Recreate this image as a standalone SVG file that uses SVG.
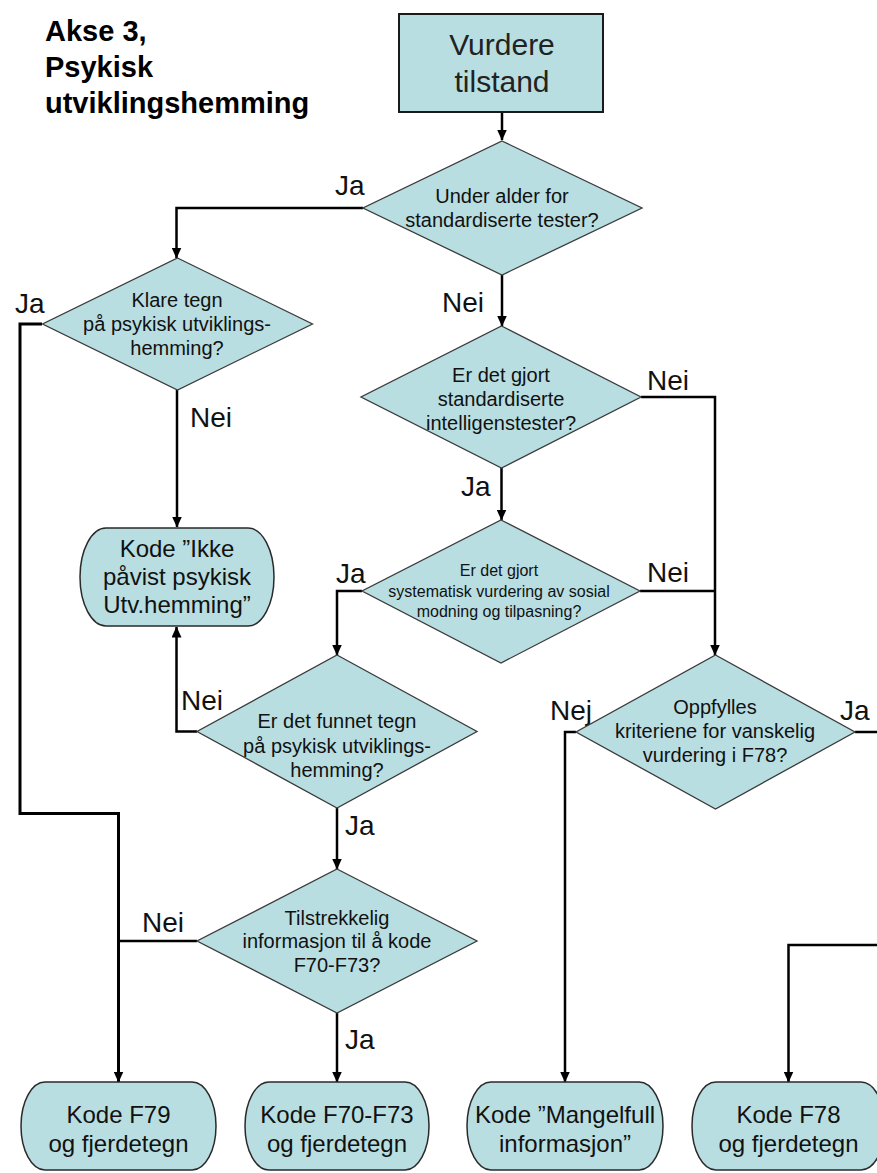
<svg xmlns="http://www.w3.org/2000/svg" width="877" height="1173" viewBox="0 0 877 1173">
<defs>
<marker id="arr" markerUnits="userSpaceOnUse" markerWidth="11" markerHeight="10" refX="10.5" refY="5" orient="auto">
<path d="M0,0 L11,5 L0,10 z" fill="#000"/>
</marker>
<style>
text{font-family:"Liberation Sans",Arial,sans-serif;fill:#111;}
.title{font-size:29px;font-weight:bold;fill:#000;}
.dia{fill:#B8DEE1;stroke:#3a3a3a;stroke-width:1.3;}
.term{fill:#B8DEE1;stroke:#2a2a2a;stroke-width:1.5;}
.box{fill:#B8DEE1;stroke:#1a1a1a;stroke-width:2;}
.t20{font-size:20px;text-anchor:middle;}
.t16{font-size:16px;text-anchor:middle;}
.t24{font-size:24px;text-anchor:middle;}
.t30{font-size:30px;text-anchor:middle;fill:#222;}
.lbl{font-size:28px;fill:#111;}
.con{fill:none;stroke:#000;stroke-width:2.5;}
.thick{stroke-width:3;}
</style>
</defs>
<rect width="877" height="1173" fill="#fff"/>

<g id="title">
<text class="title" x="45" y="41">Akse 3,</text>
<text class="title" x="45" y="77">Psykisk</text>
<text class="title" x="45" y="113">utviklingshemming</text>
</g>

<g id="connectors">
<path class="con" d="M502,112 L502,140" marker-end="url(#arr)"/>
<path class="con" d="M363,208 L176.5,208 L176.5,258" marker-end="url(#arr)"/>
<path class="con" d="M502,275 L502,326" marker-end="url(#arr)"/>
<path class="con thick" d="M42,324 L20,324 L20,813.5 L118.5,813.5 L118.5,1082" marker-end="url(#arr)"/>
<path class="con" d="M197,941 L118.5,941"/>
<path class="con" d="M177,390 L177,527" marker-end="url(#arr)"/>
<path class="con" d="M641,397 L715,397 L715,655" marker-end="url(#arr)"/>
<path class="con" d="M501.5,468 L501.5,520" marker-end="url(#arr)"/>
<path class="con" d="M640,591 L715,591"/>
<path class="con" d="M362,591 L337,591 L337,655" marker-end="url(#arr)"/>
<path class="con" d="M197,731.5 L176.5,731.5 L176.5,627" marker-end="url(#arr)"/>
<path class="con" d="M337,808 L337,869" marker-end="url(#arr)"/>
<path class="con" d="M337,1013 L337,1082" marker-end="url(#arr)"/>
<path class="con" d="M576,732 L565,732 L565,1082" marker-end="url(#arr)"/>
<path class="con" d="M855,732 L877,732"/>
<path class="con" d="M877,945 L788.5,945 L788.5,1082" marker-end="url(#arr)"/>
<text class="lbl" x="335" y="195">Ja</text>
<text class="lbl" x="442" y="312">Nei</text>
<text class="lbl" x="15" y="313">Ja</text>
<text class="lbl" x="190" y="427">Nei</text>
<text class="lbl" x="647" y="390">Nei</text>
<text class="lbl" x="461" y="496">Ja</text>
<text class="lbl" x="647" y="582">Nei</text>
<text class="lbl" x="336" y="583">Ja</text>
<text class="lbl" x="181" y="710">Nei</text>
<text class="lbl" x="345" y="835">Ja</text>
<text class="lbl" x="142" y="932">Nei</text>
<text class="lbl" x="345" y="1049">Ja</text>
<text class="lbl" x="550" y="720">Nej</text>
<text class="lbl" x="840" y="720">Ja</text>
</g>

<g id="start">
<rect class="box" x="399" y="14" width="204" height="98"/>
<text class="t30" x="502" y="55">Vurdere</text>
<text class="t30" x="502" y="92">tilstand</text>
</g>

<g id="d1">
<polygon class="dia" points="502,141 642,208 502,275 363,208"/>
<text class="t20" x="502" y="203">Under alder for</text>
<text class="t20" x="502" y="227">standardiserte tester?</text>
</g>

<g id="d-klare">
<polygon class="dia" points="177.5,258 312.5,324 177.5,390 42.5,324"/>
<text class="t20" x="177" y="307">Klare tegn</text>
<text class="t20" x="177" y="331">på psykisk utviklings-</text>
<text class="t20" x="177" y="355">hemming?</text>
</g>

<g id="d2">
<polygon class="dia" points="501.5,326 641,397 501.5,468 361,397"/>
<text class="t20" x="501" y="382">Er det gjort</text>
<text class="t20" x="501" y="406">standardiserte</text>
<text class="t20" x="501" y="430">intelligenstester?</text>
</g>

<g id="d3">
<polygon class="dia" points="501,520 640,591 501,663 362,591"/>
<text class="t16" x="499" y="576">Er det gjort</text>
<text class="t16" x="499" y="597">systematisk vurdering av sosial</text>
<text class="t16" x="499" y="617">modning og tilpasning?</text>
</g>

<g id="t-ikke">
<rect class="term" x="80" y="528" width="194" height="98" rx="26" ry="49"/>
<text class="t24" x="177" y="557">Kode ”Ikke</text>
<text class="t24" x="177" y="585">påvist psykisk</text>
<text class="t24" x="177" y="613">Utv.hemming”</text>
</g>

<g id="d4">
<polygon class="dia" points="337,655 477,731.5 337,808 197,731.5"/>
<text class="t20" x="337" y="728">Er det funnet tegn</text>
<text class="t20" x="337" y="753">på psykisk utviklings-</text>
<text class="t20" x="337" y="777">hemming?</text>
</g>

<g id="d5">
<polygon class="dia" points="715.5,655 855,732 715.5,809 576,732"/>
<text class="t20" x="715" y="714">Oppfylles</text>
<text class="t20" x="715" y="738">kriteriene for vanskelig</text>
<text class="t20" x="715" y="762">vurdering i F78?</text>
</g>

<g id="d6">
<polygon class="dia" points="337,869 477,941 337,1013 197,941"/>
<text class="t20" x="337" y="925">Tilstrekkelig</text>
<text class="t20" x="337" y="948">informasjon til å kode</text>
<text class="t20" x="337" y="972">F70-F73?</text>
</g>

<g id="t-f79">
<rect class="term" x="21" y="1082" width="195" height="88" rx="24" ry="44"/>
<text class="t24" x="118.5" y="1123">Kode F79</text>
<text class="t24" x="118.5" y="1152">og fjerdetegn</text>
</g>

<g id="t-f70">
<rect class="term" x="245" y="1082" width="184" height="88" rx="24" ry="44"/>
<text class="t24" x="337" y="1123">Kode F70-F73</text>
<text class="t24" x="337" y="1152">og fjerdetegn</text>
</g>

<g id="t-mangel">
<rect class="term" x="467" y="1082" width="196" height="88" rx="24" ry="44"/>
<text class="t24" x="565" y="1123">Kode ”Mangelfull</text>
<text class="t24" x="565" y="1152">informasjon”</text>
</g>

<g id="t-f78">
<rect class="term" x="692" y="1082" width="193" height="88" rx="24" ry="44"/>
<text class="t24" x="788.5" y="1123">Kode F78</text>
<text class="t24" x="788.5" y="1152">og fjerdetegn</text>
</g>
</svg>
